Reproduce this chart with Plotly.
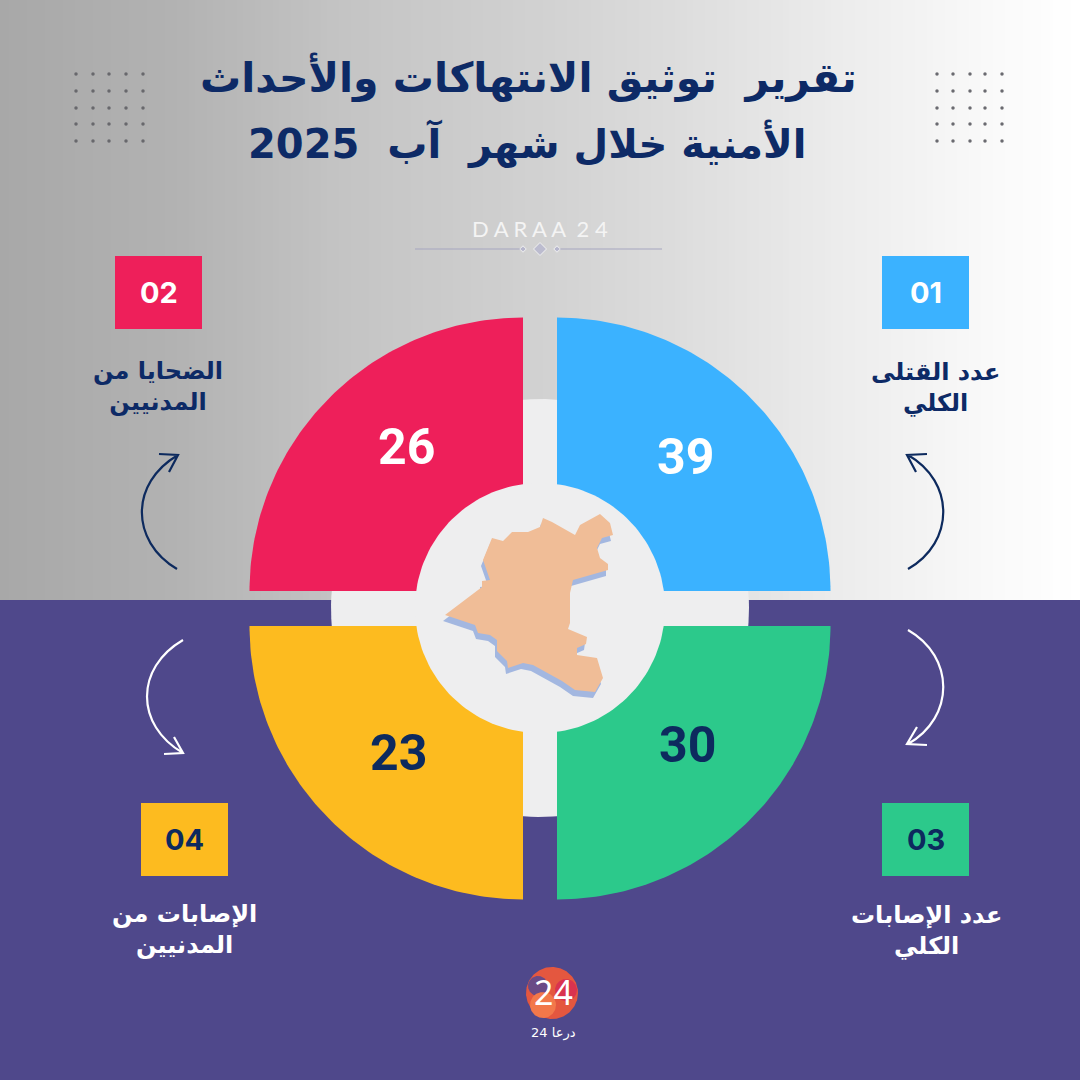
"""Daraa 24 monthly report infographic, August 2025."""

import numpy as np
import plotly.graph_objects as go

TITLE_LINES = ["تقرير  توثيق الانتهاكات والأحداث", "الأمنية خلال شهر  آب  2025"]
TOTALS = [39, 26, 30, 23]
BADGES = ["01", "02", "03", "04"]
LABELS = [
    "عدد القتلى<br>الكلي",
    "الضحايا من<br>المدنيين",
    "عدد الإصابات<br>الكلي",
    "الإصابات من<br>المدنيين",
]
COLORS = ["#3bb2ff", "#ee1f5a", "#2cc98b", "#fdbb1f"]
NUM_COLORS = ["white", "white", "#0d2a5e", "#0d2a5e"]
LABEL_COLORS = ["#0d2a66", "#0d2a66", "white", "white"]

# quadrant corner and which way the quarter disc opens
CORNER_X = [557, 523, 557, 523]
CORNER_Y = [591, 591, 626, 626]
DIR_X = [1, -1, 1, -1]
DIR_Y = [-1, -1, 1, 1]
NUM_X = [685, 406, 687, 398]
NUM_Y = [457, 447, 745, 753]
BADGE_X = [882, 115, 882, 141]
BADGE_Y = [256, 256, 803, 803]
LABEL_X = [935, 158, 926, 184]
LABEL_Y = [387, 386, 930, 929]

GRAD_POS = [0, 172, 344, 550, 690, 860, 1000, 1080]
GRAD_GREY = [168, 178, 196, 210, 222, 238, 250, 255]

DOT_LEFT = [76, 93, 109, 126, 143]
DOT_RIGHT = [937, 953, 970, 985, 1002]
DOT_ROWS = [74, 91, 108, 124, 141]

MAP_X = [445, 482, 482, 490, 483, 492, 503, 512, 528, 540, 543, 552, 575, 580, 600,
         610, 613, 602, 597, 600, 608, 608, 573, 570, 570, 568, 587, 586, 577, 577,
         597, 603, 595, 575, 562, 533, 523, 508, 507, 497, 497, 490, 478, 475]
MAP_Y = [615, 587, 581, 580, 560, 538, 541, 532, 532, 527, 518, 522, 535, 525, 514,
         523, 535, 538, 548, 558, 564, 570, 580, 593, 623, 629, 637, 644, 648, 655,
         658, 678, 692, 690, 681, 665, 663, 668, 661, 651, 640, 635, 633, 625]

ARROW_PATHS = [
    ("M 908 569 C 955 542 955 482 908 455 M 927 454 L 907 455 L 916 472", "#0d2a5e"),
    ("M 177 569 C 130 541 130 483 178 455 M 159 454 L 178 455 L 169 472", "#0d2a5e"),
    ("M 908 630 C 955 657 955 717 908 744 M 927 745 L 907 744 L 917 727", "white"),
    ("M 183 640 C 135 668 135 725 183 753 M 164 754 L 183 753 L 174 737", "white"),
]

CENTER = (540, 608)
R_SECTOR = 273.5
R_BACK = 209
R_HUB = 125
HUB = "#eeeeef"
PURPLE = "#4f488b"
ARABIC = "DejaVu Sans"


def disc(cx, cy, r, a0=0.0, a1=2 * np.pi, n=180):
    t = np.linspace(a0, a1, n)
    return cx + r * np.cos(t), cy + r * np.sin(t)


def fill(fig, x, y, color):
    fig.add_trace(go.Scatter(x=x, y=y, mode="lines", fill="toself", fillcolor=color,
                             line={"width": 0, "color": color}, hoverinfo="skip"))


def text(fig, x, y, s, size, color, family=ARABIC, weight="bold"):
    fig.add_annotation(x=x, y=y, text=s, showarrow=False, align="center",
                       font={"size": size, "color": color, "family": family, "weight": weight})


fig = go.Figure()

# backdrop: grey gradient on top, flat purple below
xs = np.arange(0, 1081, 6)
fig.add_trace(go.Heatmap(
    x=xs, y=[0, 600], z=[np.interp(xs, GRAD_POS, GRAD_GREY)] * 2, zmin=0, zmax=255,
    colorscale=[[0, "#000000"], [1, "#ffffff"]], showscale=False, hoverinfo="skip",
))
fill(fig, [0, 1080, 1080, 0], [600, 600, 1080, 1080], PURPLE)

for xd, color in ((DOT_LEFT, "#68686c"), (DOT_RIGHT, "#6a6a70")):
    fig.add_trace(go.Scatter(
        x=[x for x in xd for _ in DOT_ROWS], y=DOT_ROWS * len(xd), mode="markers",
        marker={"size": 3.5, "color": color}, hoverinfo="skip",
    ))

# light disc only shows through the gaps between the quarters
fill(fig, *disc(*CENTER, R_BACK), HUB)
for i, color in enumerate(COLORS):
    arc_x, arc_y = disc(0, 0, R_SECTOR, 0, np.pi / 2, 90)
    fill(fig,
         np.r_[CORNER_X[i], CORNER_X[i] + DIR_X[i] * arc_x],
         np.r_[CORNER_Y[i], CORNER_Y[i] + DIR_Y[i] * arc_y],
         color)
fill(fig, *disc(*CENTER, R_HUB), HUB)

# map with its blue extruded edge
fill(fig, [x - 2 for x in MAP_X], [y + 6 for y in MAP_Y], "#a3b7e0")
fill(fig, MAP_X, MAP_Y, "#f0bd97")

# logo
fill(fig, *disc(552, 993, 26), "#e4573f")
fill(fig, *disc(566, 990, 11), "#d9334f")
fill(fig, *disc(538, 986, 10), "#6a4a86")
fill(fig, *disc(543, 1005, 13), "#f2784a")

for i in range(4):
    fig.add_shape(type="rect", x0=BADGE_X[i], x1=BADGE_X[i] + 87, y0=BADGE_Y[i], y1=BADGE_Y[i] + 73,
                  fillcolor=COLORS[i], line_width=0)
    text(fig, BADGE_X[i] + 43.5, BADGE_Y[i] + 36, BADGES[i], 29, "#0d2a5e" if i > 1 else "white",
         family="Inter")
    text(fig, NUM_X[i], NUM_Y[i], str(TOTALS[i]), 50, NUM_COLORS[i], family="Roboto")
    text(fig, LABEL_X[i], LABEL_Y[i], LABELS[i], 24, LABEL_COLORS[i])

for path, color in ARROW_PATHS:
    fig.add_shape(type="path", path=path, line={"color": color, "width": 2.2})

text(fig, 528, 77, TITLE_LINES[0], 41, "#0d2a66")
text(fig, 527, 143, TITLE_LINES[1], 40, "#0d2a66")
text(fig, 540, 228, "D A R A A  2 4", 22, "#f4f4f4", family="Lato", weight="normal")
text(fig, 553, 992, "24", 34, "white", family="Noto Sans", weight="normal")
text(fig, 553, 1033, "24 درعا", 13, "white", weight="normal")

fig.add_trace(go.Scatter(x=[415, 525], y=[249, 249], mode="lines",
                         line={"color": "#a6a6c0", "width": 1.2}, hoverinfo="skip"))
fig.add_trace(go.Scatter(x=[555, 662], y=[249, 249], mode="lines",
                         line={"color": "#a6a6c0", "width": 1.2}, hoverinfo="skip"))
fig.add_trace(go.Scatter(x=[523, 540, 557], y=[249, 249, 249], mode="markers",
                         marker={"size": [5, 10, 5], "color": "#b4b4cf", "symbol": "diamond"},
                         hoverinfo="skip"))

fig.update_xaxes(range=[0, 1080], visible=False, fixedrange=True)
fig.update_yaxes(range=[1080, 0], visible=False, fixedrange=True)
fig.update_layout(
    width=1080, height=1080, margin={"l": 0, "r": 0, "t": 0, "b": 0},
    showlegend=False, plot_bgcolor="white", paper_bgcolor="white",
)
fig.write_html("out.html", config={"displayModeBar": False},
               post_script="document.body.style.margin='0';document.body.style.overflow='hidden';")
